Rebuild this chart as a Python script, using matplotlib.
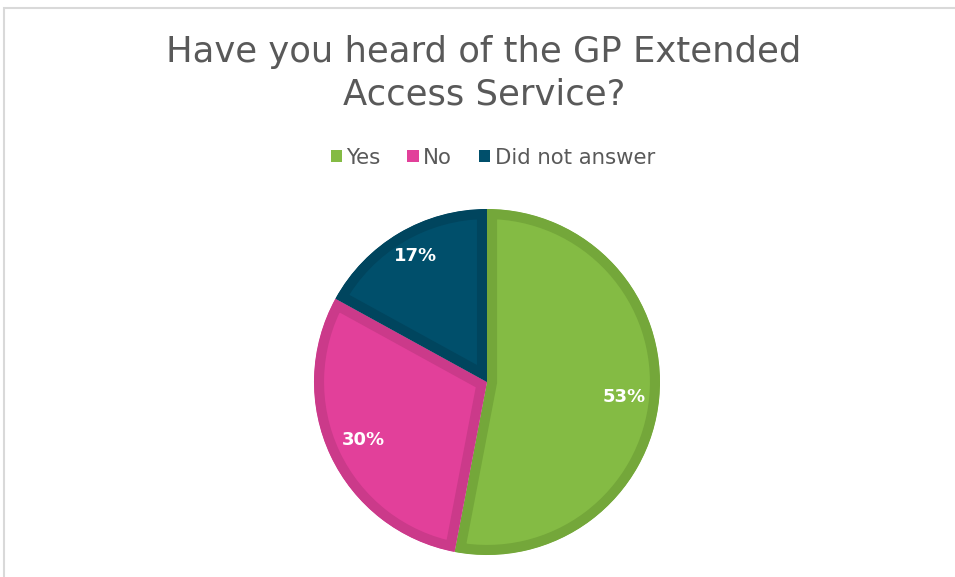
import matplotlib
matplotlib.use("Agg")
import matplotlib.pyplot as plt
from matplotlib.patches import Rectangle, Patch

labels = ["Yes", "No", "Did not answer"]
values = [53, 30, 17]
fill_colors = ["#84BB44", "#E2409A", "#004F6B"]
edge_colors = ["#74A73A", "#CB3A8A", "#00455E"]

title = "Have you heard of the GP Extended\nAccess Service?"

fig = plt.figure(figsize=(9.55, 5.77), dpi=100)
ax = fig.add_axes([0, 0, 1, 1])

# chart frame
fig.patches.append(Rectangle((4 / 955, -0.1), 1.2, (569 / 577) + 0.1,
                             transform=fig.transFigure, fill=False,
                             edgecolor="#D9D9D9", linewidth=1.5))

wedges, texts, autotexts = ax.pie(
    values, colors=fill_colors, startangle=90, counterclock=False,
    center=(487, 195), radius=173, autopct="%1.0f%%", pctdistance=0.79,
    wedgeprops=dict(linewidth=14.5),
    textprops=dict(color="white", fontsize=13, fontweight="bold"))

ax.set_xlim(0, 955)
ax.set_ylim(0, 577)
ax.set_aspect("equal")
ax.axis("off")

# border drawn only inside each slice
for w, ec in zip(wedges, edge_colors):
    w.set_edgecolor(ec)
    w.set_clip_on(True)
    w.set_clip_path(w)

autotexts[0].set_position((624, 577 - 397))
autotexts[2].set_position((415, 577 - 256))

fig.text(0.507, 0.94, title, ha="center", va="top", fontsize=25.5,
         color="#595959", linespacing=1.32)

handles = [Patch(facecolor=c, edgecolor="none") for c in fill_colors]
fig.legend(handles, labels, loc="center", bbox_to_anchor=(0.516, 0.727),
           ncol=3, frameon=False, fontsize=15.3, handlelength=0.55,
           handleheight=0.55, handletextpad=0.2, columnspacing=1.25,
           labelcolor="#595959")

fig.savefig("out.png", dpi=100)
